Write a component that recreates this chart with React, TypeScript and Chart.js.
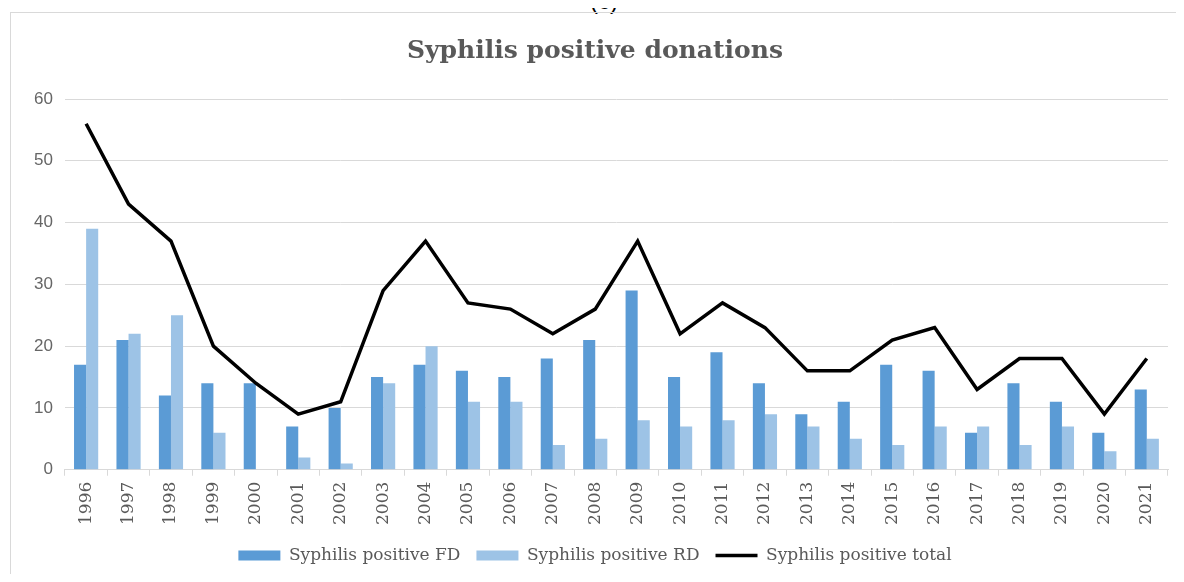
import React, { useEffect, useRef } from "react";
import { Chart, registerables } from "chart.js";

Chart.register(...registerables);

const years = ["1996","1997","1998","1999","2000","2001","2002","2003","2004","2005","2006","2007","2008","2009","2010","2011","2012","2013","2014","2015","2016","2017","2018","2019","2020","2021"];
const fd = [17,21,12,14,14,7,10,15,17,16,15,18,21,29,15,19,14,9,11,17,16,6,14,11,6,13];
const rd = [39,22,25,6,0,2,1,14,20,11,11,4,5,8,7,8,9,7,5,4,7,7,4,7,3,5];
const total = [56,43,37,20,14,9,11,29,37,27,26,22,26,37,22,27,23,16,16,21,23,13,18,18,9,18];
const yTicks = [0,10,20,30,40,50,60];

const GREY = "#595959";

export default function App() {
  const ref = useRef<HTMLCanvasElement>(null);
  useEffect(() => {
    if (!ref.current) return;
    const chart = new Chart(ref.current, {
      type: "bar",
      data: {
        labels: years,
        datasets: [
          { type: "bar", label: "Syphilis positive FD", data: fd, backgroundColor: "#5b9bd5", borderWidth: 0, order: 2, categoryPercentage: 0.57, barPercentage: 1 },
          { type: "bar", label: "Syphilis positive RD", data: rd, backgroundColor: "#9dc3e6", borderWidth: 0, order: 2, categoryPercentage: 0.57, barPercentage: 1 },
          { type: "line", label: "Syphilis positive total", data: total, borderColor: "#000", backgroundColor: "#000", borderWidth: 3.5, pointRadius: 0, tension: 0, order: 0 } as any,
        ],
      },
      options: {
        animation: false,
        responsive: false,
        maintainAspectRatio: false,
        layout: { padding: { top: 36, left: 22, right: 16, bottom: 8 } },
        plugins: {
          title: {
            display: true,
            text: "Syphilis positive donations",
            color: GREY,
            font: { family: "DejaVu Serif", size: 25, weight: "bold" },
            padding: { top: 0, bottom: 33 },
          },
          legend: {
            position: "bottom",
            labels: {
              usePointStyle: true,
              pointStyleWidth: 42,
              boxHeight: 10,
              color: GREY,
              font: { family: "DejaVu Serif", size: 17 },
              padding: 16,
              generateLabels: (c: any) => {
                const items = Chart.defaults.plugins.legend.labels.generateLabels(c);
                return items
                  .map((it: any) => ({ ...it, pointStyle: it.datasetIndex === 2 ? "line" : "rect", lineWidth: it.datasetIndex === 2 ? 3.5 : 0 }))
                  .sort((a: any, b: any) => a.datasetIndex - b.datasetIndex);
              },
            },
          },
          tooltip: { enabled: false },
        },
        scales: {
          x: {
            offset: true,
            grid: { offset: true, drawOnChartArea: false, drawTicks: true, tickLength: 6, color: "#d9d9d9" },
            border: { color: "#d9d9d9" },
            ticks: { color: GREY, font: { family: "DejaVu Serif", size: 17 }, minRotation: 90, maxRotation: 90, autoSkip: false, padding: 6 },
          },
          y: {
            min: 0,
            max: 60,
            afterBuildTicks: (axis: any) => { axis.ticks = yTicks.map((v) => ({ value: v })); },
            grid: { color: "#d9d9d9", drawTicks: false },
            border: { display: false },
            ticks: { color: "#666", font: { family: "Liberation Sans", size: 17 }, padding: 12 },
          },
        },
      },
    } as any);
    return () => chart.destroy();
  }, []);

  return (
    <div style={{ position: "relative", width: 1184, height: 582, margin: -8, overflow: "hidden", background: "#fff" }}>
      <div style={{ position: "absolute", left: 0, width: 1184, top: -11, textAlign: "center", fontFamily: "Liberation Sans", fontSize: 24, lineHeight: "24px", color: "#000", paddingLeft: 12 }}>(c)</div>
      <div style={{ position: "absolute", left: 10, top: 12, width: 1172, height: 600, border: "1px solid #d9d9d9" }} />
      <canvas ref={ref} width={1184} height={582} style={{ position: "absolute", left: 0, top: 0, width: 1184, height: 582 }} />
    </div>
  );
}
